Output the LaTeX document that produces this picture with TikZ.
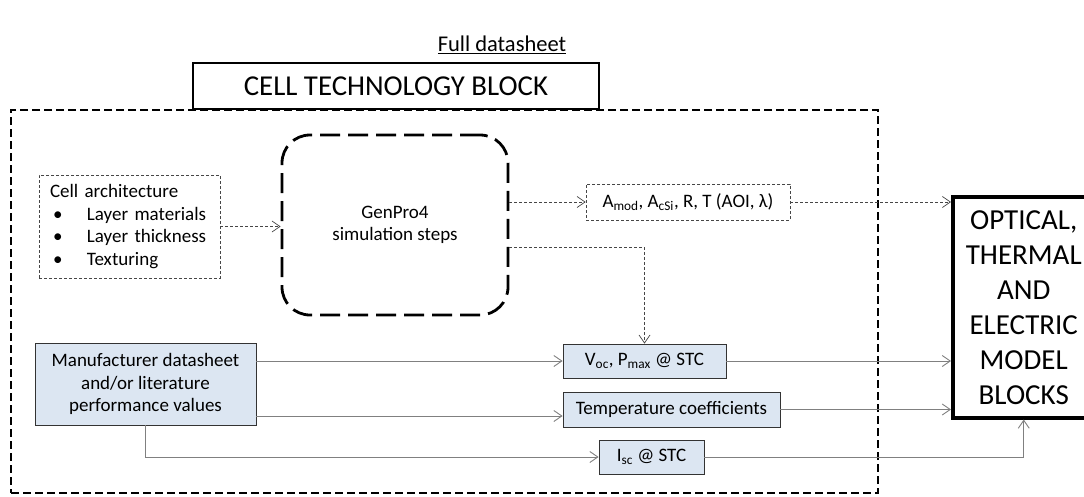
\documentclass[tikz,border=0pt]{standalone}
\usepackage{fontspec}
\setmainfont{Carlito}
\usetikzlibrary{arrows.meta}
\definecolor{paleblue}{RGB}{220,230,242}
\definecolor{linegray}{RGB}{128,128,128}
\definecolor{dashgray}{RGB}{70,70,70}
\begin{document}
\begin{tikzpicture}[x=1pt,y=-1pt,
  every node/.style={inner sep=0pt, font=\fontsize{19}{22.5}\selectfont, align=center},
  techframe/.style={draw, line width=2.6pt, dash pattern=on 8pt off 4pt},
  headerbox/.style={draw, line width=2.6pt, fill=white, font=\fontsize{28.8}{34}\selectfont},
  simbox/.style={draw, line width=2.8pt, dash pattern=on 20pt off 8pt, rounded corners=28pt},
  notebox/.style={draw=dashgray, line width=0.7pt, dash pattern=on 3pt off 2pt},
  valuebox/.style={draw=black!80, line width=0.8pt, fill=paleblue},
  modelbox/.style={draw, line width=3.5pt, fill=white, font=\fontsize{29}{35}\selectfont},
  flow/.style={draw=linegray, line width=0.9pt, -{Straight Barb[length=8pt,width=11pt]}},
  dflow/.style={draw=dashgray, line width=0.7pt, dash pattern=on 3pt off 2pt, -{Straight Barb[length=8pt,width=11pt]}},
  ]
\useasboundingbox (0,0) rectangle (1084,496);

% title and the cell technology frame
\node[font=\fontsize{22.5}{26}\selectfont] (title) at (502,45) {\underline{Full datasheet}};
\node[techframe, minimum width=867, minimum height=383] (frame) at (444.5,301.5) {};
\node[headerbox, minimum width=406, minimum height=46] (header) at (396,86) {CELL TECHNOLOGY BLOCK};

% inputs and simulation
\node[notebox, text width=159, inner xsep=11, minimum height=103, align=left] (arch) at (129.5,226.5)
  {Cell architecture\\
   \hspace*{3pt}\makebox[34pt][l]{\textbullet}Layer materials\\
   \hspace*{3pt}\makebox[34pt][l]{\textbullet}Layer thickness\\
   \hspace*{3pt}\makebox[34pt][l]{\textbullet}Texturing};
\node[simbox, minimum width=226, minimum height=180] (sim) at (395,225) {GenPro4\\simulation steps};
\node[notebox, minimum width=204, minimum height=36] (optout) at (688,202)
  {A\textsubscript{mod}, A\textsubscript{cSi}, R, T (AOI, λ)};

% datasheet values
\node[valuebox, minimum width=221, minimum height=82] (datasheet) at (145.5,384)
  {Manufacturer datasheet\\and/or literature\\performance values};
\node[valuebox, minimum width=163, minimum height=34] (stc) at (644.5,361)
  {V\textsubscript{oc}, P\textsubscript{max} @ STC};
\node[valuebox, minimum width=217, minimum height=35] (tempco) at (671.5,409.5) {Temperature coefficients};
\node[valuebox, minimum width=105, minimum height=34] (isc) at (651.5,457) {I\textsubscript{sc} @ STC};

% downstream model block
\node[modelbox, minimum width=142, minimum height=221, anchor=north west] (model) at (951,195)
  {OPTICAL,\\THERMAL\\AND\\ELECTRIC\\MODEL\\BLOCKS};

% connectors
\draw[dflow] (arch.east) -- (arch.east -| sim.west);
\draw[dflow] (sim.east |- optout.west) -- (optout.west);
\draw[dflow] (optout.east) -- (optout.east -| model.west);
\draw[dflow] (sim.east |- 0,247) -| (stc.north);
\draw[flow] (datasheet.east |- stc.west) -- (stc.west);
\draw[flow] (datasheet.east |- 0,416) -- (tempco.west |- 0,416);
\draw[flow] (datasheet.south) |- (isc.west);
\draw[flow] (stc.east) -- (stc.east -| model.west);
\draw[flow] (tempco.east) -- (tempco.east -| model.west);
\draw[flow] (isc.east) -| (model.south);
\end{tikzpicture}
\end{document}
